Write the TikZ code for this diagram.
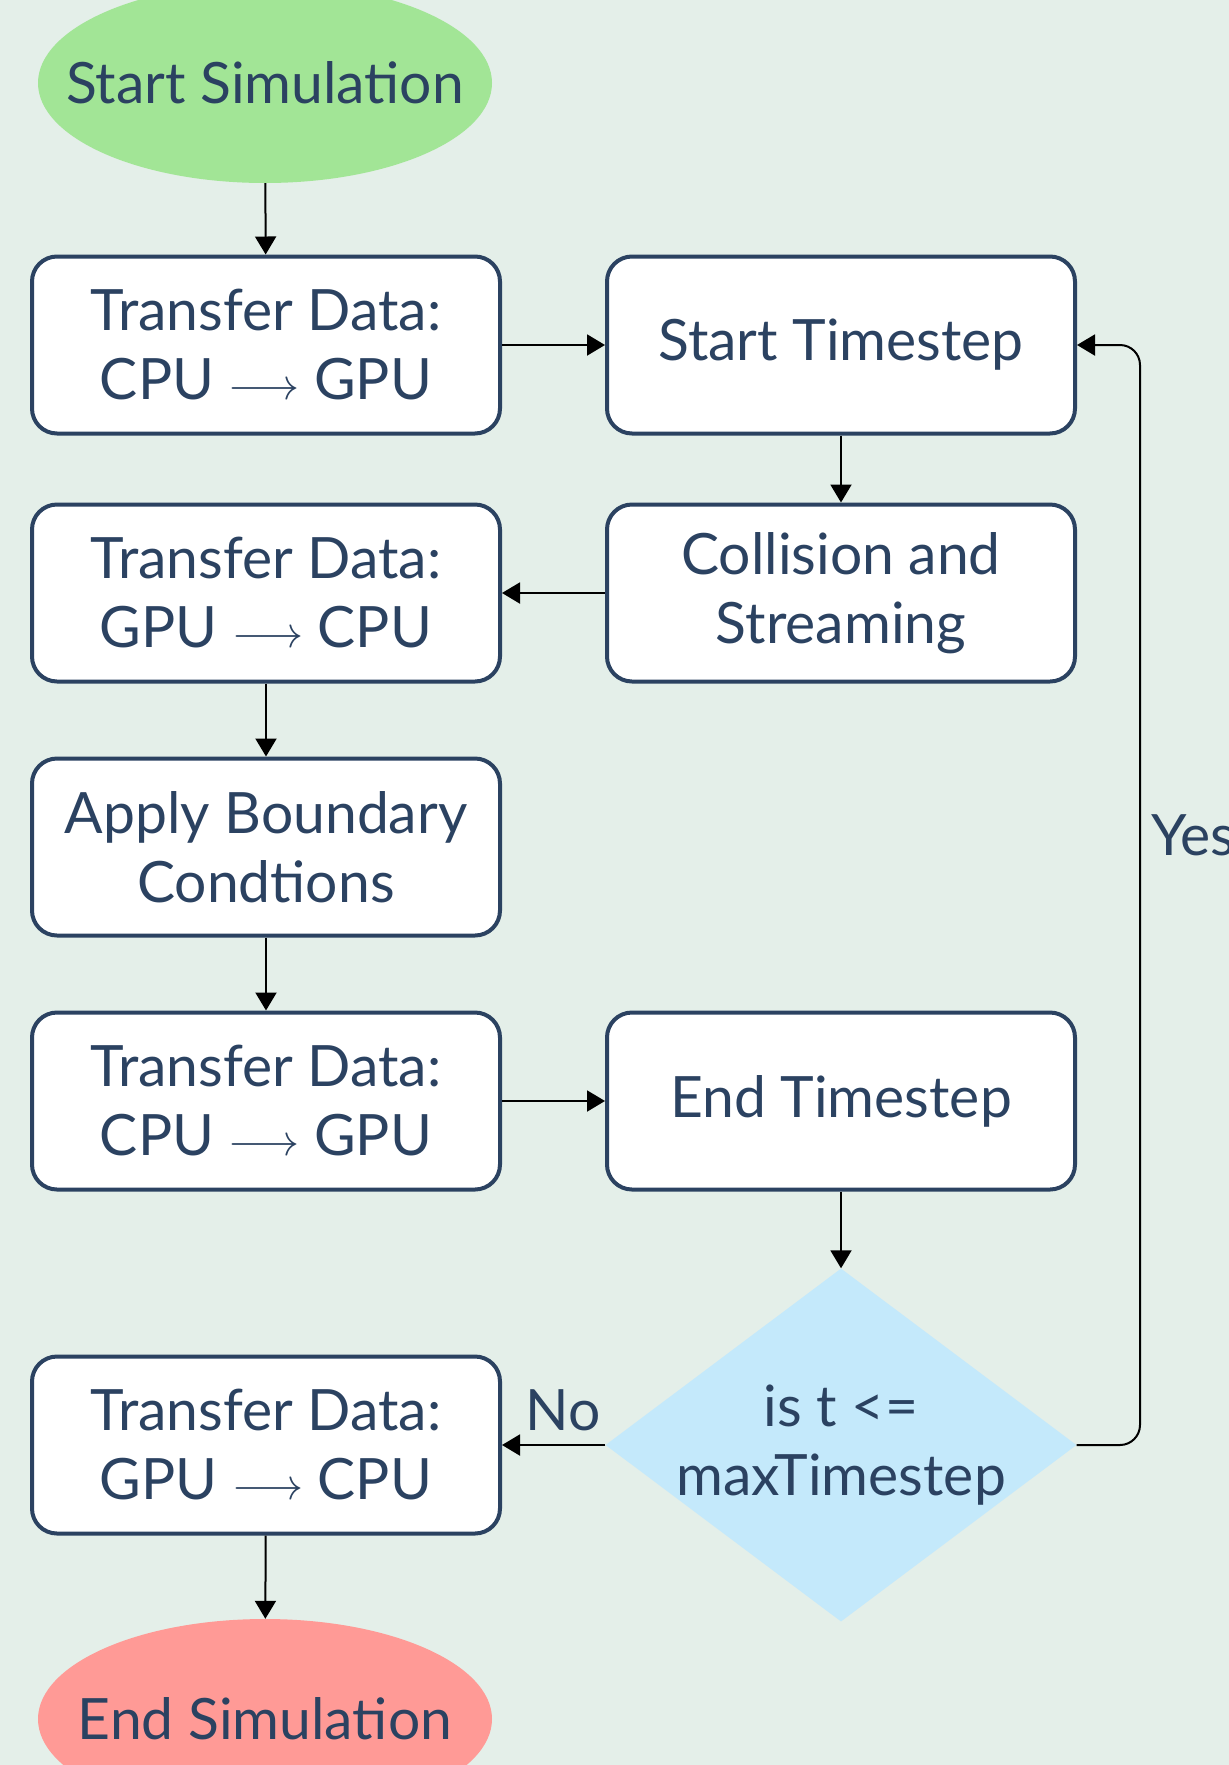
\documentclass[tikz,border=0pt]{standalone}
\usepackage{graphicx}
\usepackage{fontspec}
\setmainfont{Lato}
\usetikzlibrary{shapes.geometric,arrows.meta}
\definecolor{bgc}{HTML}{E4EFE9}
\definecolor{txt}{HTML}{2B4261}
\definecolor{startc}{HTML}{A2E596}
\definecolor{endc}{HTML}{FF9A96}
\definecolor{decc}{HTML}{C4E9FB}
\newcommand{\tarrow}{{\fontsize{10}{12}\selectfont\scalebox{4.4}{$\longrightarrow$}}}
\begin{document}
\begin{tikzpicture}[x=1pt,y=-1pt,
  every node/.style={text=txt,font=\fontsize{57}{69}\selectfont,align=center},
  stepbox/.style={rectangle,rounded corners=25pt,draw=txt,line width=4pt,fill=white,minimum width=468pt,minimum height=177pt,inner sep=0pt},
  term/.style={ellipse,minimum width=454pt,minimum height=200pt,inner sep=0pt},
  conn/.style={line width=2pt,-{Triangle[length=18pt,width=21pt]}}
]
\fill[bgc] (0,0) rectangle (1229,1765);
\useasboundingbox (0,0) rectangle (1229,1765);

\node[term,fill=startc] (start) at (265,83) {};
\node (startt) at (start.center) {Start Simulation};
\node[stepbox] (b1) at (266,345) {Transfer Data:\\CPU \tarrow{} GPU};
\node[stepbox] (st) at (841,345) {Start Timestep};
\node[stepbox] (b2) at (266,593) {Transfer Data:\\GPU \tarrow{} CPU};
\node[stepbox] (cs) at (841,593) {Collision and\\Streaming};
\node[stepbox] (ab) at (266,847) {Apply Boundary\\Condtions};
\node[stepbox] (b3) at (266,1101) {Transfer Data:\\CPU \tarrow{} GPU};
\node[stepbox] (et) at (841,1101) {End Timestep};
\node[diamond,fill=decc,minimum width=471pt,minimum height=353pt,inner sep=0pt] (dm) at (841,1445) {};
\node (dmt) at (dm.center) {is t <=\\maxTimestep};
\node[stepbox] (b4) at (266,1445) {Transfer Data:\\GPU \tarrow{} CPU};
\node[term,fill=endc] (end) at (265,1719) {};
\node (endt) at (end.center) {End Simulation};

\node[anchor=west] (yes) at (1148,835) {Yes};
\node (no) at (563,1410) {No};

\draw[conn] (start) -- (b1);
\draw[conn] (b1) -- (st);
\draw[conn] (st) -- (cs);
\draw[conn] (cs) -- (b2);
\draw[conn] (b2) -- (ab);
\draw[conn] (ab) -- (b3);
\draw[conn] (b3) -- (et);
\draw[conn] (et) -- (dm);
\draw[conn] (dm) -- (b4);
\draw[conn] (b4) -- (end);
\draw[conn,rounded corners=20pt] (dm.east) -- (1140,1445) -- (1140,345) -- (st.east);
\end{tikzpicture}
\end{document}
